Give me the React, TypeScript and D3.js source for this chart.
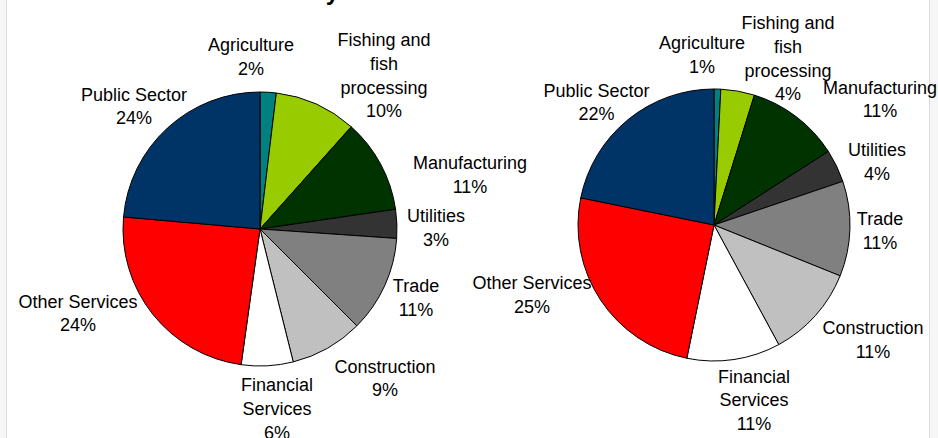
import React from "react";
import * as d3 from "d3";

// sector names, in the order the slices run clockwise from 12 o'clock
const sectors = [
  "Agriculture",
  "Fishing and fish processing",
  "Manufacturing",
  "Utilities",
  "Trade",
  "Construction",
  "Financial Services",
  "Other Services",
  "Public Sector",
];
const sectorLines = [
  ["Agriculture"],
  ["Fishing and", "fish", "processing"],
  ["Manufacturing"],
  ["Utilities"],
  ["Trade"],
  ["Construction"],
  ["Financial", "Services"],
  ["Other Services"],
  ["Public Sector"],
];
const sharesLeft = [1.9, 9.7, 11.1, 3.4, 11.4, 8.6, 6.1, 24.2, 23.6];
const sharesRight = [0.8, 4.0, 11.1, 3.9, 11.3, 11.0, 11.1, 25.0, 21.8];
const sectorColors = [
  "#008080",
  "#99cc00",
  "#003300",
  "#333333",
  "#808080",
  "#c0c0c0",
  "#ffffff",
  "#ff0000",
  "#003366",
];

// label placement (first line centre, relative to the pie centre)
const labelPosLeft: [number, number][] = [
  [-9, -184],
  [124, -189],
  [210, -66],
  [176, -13],
  [156, 57],
  [125, 137.5],
  [17, 156],
  [-182, 72.5],
  [-126, -134.5],
];
const labelPosRight: [number, number][] = [
  [-12, -182],
  [74, -202],
  [166, -137.5],
  [163, -75],
  [166, -6],
  [159, 103],
  [40, 151.5],
  [-182, 58],
  [-117.5, -134.5],
];

const W = 938;
const H = 438;
const FONT = "'Liberation Sans', Arial, sans-serif";
const LINE = 23.6;

interface PieProps {
  cx: number;
  cy: number;
  r: number;
  values: number[];
  labelPos: [number, number][];
}

const Pie: React.FC<PieProps> = ({ cx, cy, r, values, labelPos }) => {
  const pie = d3
    .pie<number>()
    .sort(null)
    .value((d) => d);
  const arcs = pie(values);
  const arc = d3.arc<d3.PieArcDatum<number>>().innerRadius(0).outerRadius(r);

  return (
    <g transform={`translate(${cx},${cy})`}>
      {arcs.map((a, i) => (
        <path
          key={sectors[i]}
          d={arc(a) || ""}
          fill={sectorColors[i]}
          stroke="#000"
          strokeWidth={1}
          strokeLinejoin="round"
        />
      ))}
      {arcs.map((a, i) => {
        const [lx, ly] = labelPos[i];
        const lines = [...sectorLines[i], `${Math.round(a.data)}%`];
        return (
          <text
            key={"l" + sectors[i]}
            x={lx}
            y={ly}
            textAnchor="middle"
            fontFamily={FONT}
            fontSize={18}
            fill="#000"
          >
            {lines.map((t, j) => (
              <tspan key={j} x={lx} y={ly + j * LINE} dy="0.35em">
                {t}
              </tspan>
            ))}
          </text>
        );
      })}
    </g>
  );
};

export default function App() {
  return (
    <svg
      width={W}
      height={H}
      style={{ position: "fixed", left: 0, top: 0, background: "#fff" }}
    >
      <rect x={0} y={0} width={7} height={H} fill="#f6f6f6" />
      <rect x={930} y={0} width={8} height={H} fill="#f6f6f6" />
      <line x1={6.5} x2={6.5} y1={0} y2={H} stroke="#dcdcdc" />
      <line x1={929.5} x2={929.5} y1={0} y2={H} stroke="#dcdcdc" />
      <text
        x={339}
        y={0}
        textAnchor="end"
        fontFamily={FONT}
        fontSize={24}
        fontWeight="bold"
        fill="#000"
      >
        Structure of the Economy
      </text>
      <Pie cx={260} cy={229} r={137} values={sharesLeft} labelPos={labelPosLeft} />
      <Pie cx={714} cy={225} r={136} values={sharesRight} labelPos={labelPosRight} />
    </svg>
  );
}
